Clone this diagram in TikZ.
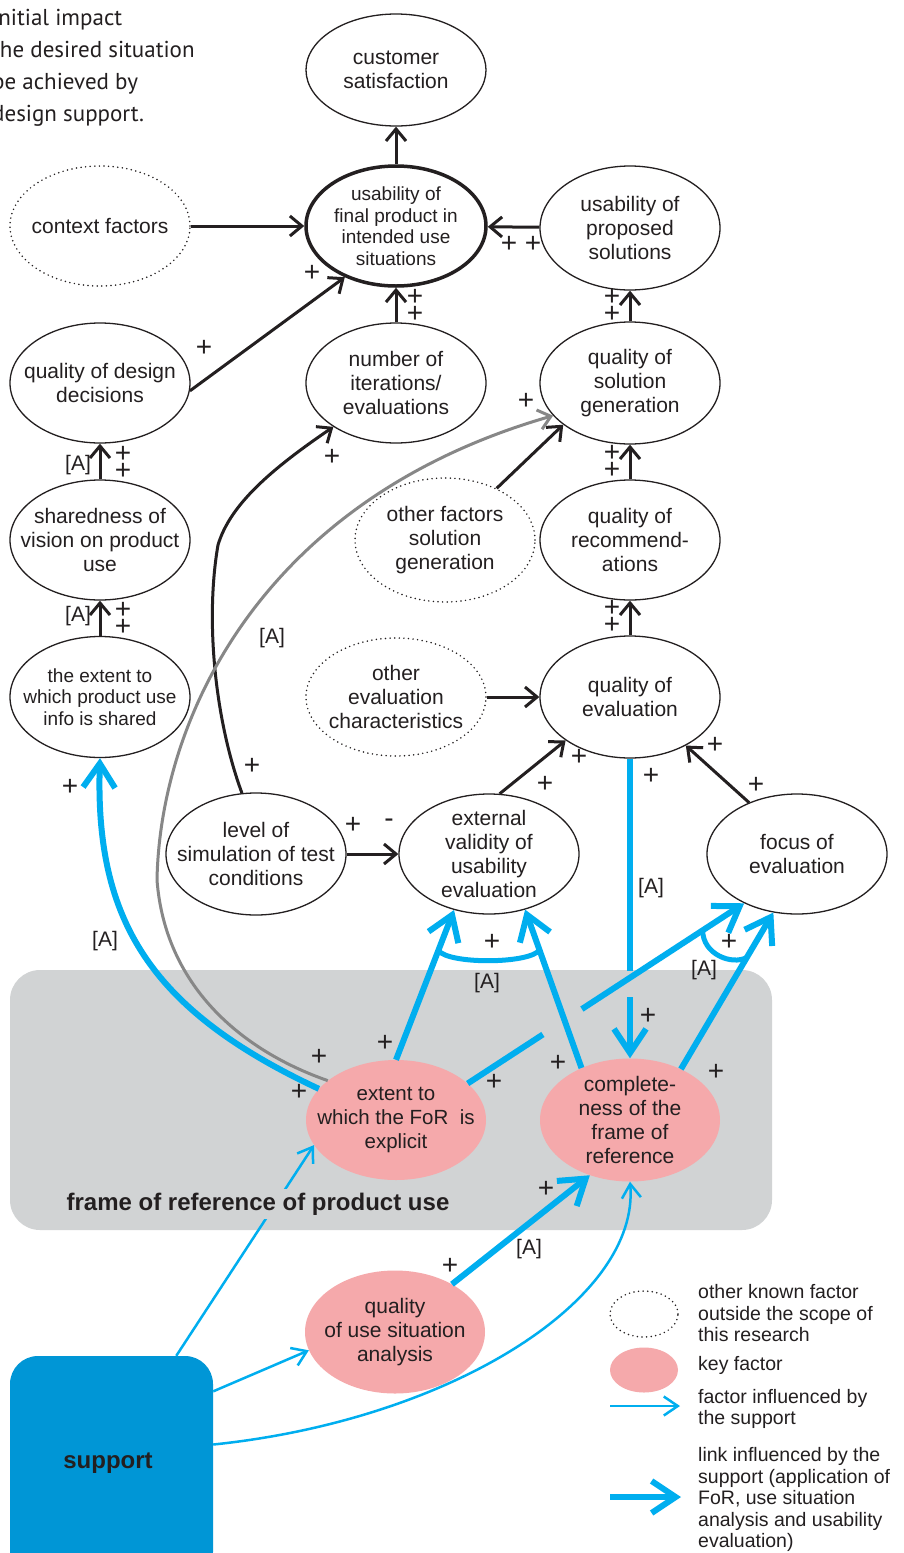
\documentclass[tikz,border=0pt]{standalone}
\usepackage{fontspec}
\setmainfont{Liberation Sans}
\newfontfamily\notefont{PT Sans}
\usetikzlibrary{shapes.geometric,arrows.meta,calc}

\definecolor{ink}{HTML}{231F20}
\definecolor{fcyan}{HTML}{00AEEF}
\definecolor{supblue}{HTML}{0096D6}
\definecolor{keypink}{HTML}{F5A9AB}
\definecolor{forgray}{HTML}{D1D3D4}
\definecolor{linkgray}{HTML}{878787}

\begin{document}
\begin{tikzpicture}[x=1pt,y=-1pt,
  every node/.style={text=ink},
  fac/.style={ellipse, draw=ink, line width=1.3pt, minimum width=180pt, minimum height=120pt, inner sep=0pt},
  keyfac/.style={ellipse, fill=keypink, minimum width=180pt, minimum height=122pt, inner sep=0pt},
  otherfac/.style={ellipse, draw=ink, line width=1.7pt, dash pattern=on 0pt off 4.6pt, line cap=round,
                   minimum width=180pt, minimum height=120pt, inner sep=0pt},
  txt/.style={font=\fontsize{21}{24}\selectfont, align=center, text=ink},
  small/.style={font=\fontsize{19}{21.5}\selectfont, align=center, text=ink},
  sign/.style={font=\fontsize{28}{17}\selectfont, inner sep=0pt, align=center},
  tag/.style={font=\fontsize{21}{24}\selectfont, inner sep=0pt},
  legtxt/.style={font=\fontsize{19.5}{21.5}\selectfont, align=left, anchor=west, inner sep=0pt},
  barrow/.style={draw=ink, line width=3pt, -{Straight Barb[length=12pt,width=20pt]}},
  garrow/.style={draw=linkgray, line width=3pt, -{Straight Barb[length=12pt,width=20pt]}},
  bline/.style={draw=fcyan, line width=6pt},
  bthick/.style={bline, -{Straight Barb[length=24pt,width=32pt]}},
  bthin/.style={draw=fcyan, line width=2.5pt, -{Straight Barb[length=14pt,width=19pt]}}
]
\useasboundingbox (0,0) rectangle (903,1553);
\clip (0,0) rectangle (903,1553);
\fill[white] (0,0) rectangle (903,1553);

% heading note, cut by the left edge
\node[anchor=north west, inner sep=0pt, align=left, font=\notefont\fontsize{23}{32}\selectfont]
  (note) at (-8,9) {initial impact\\the desired situation\\be achieved by\\design support.};

% frame of reference area and the support block
\fill[forgray, rounded corners=30pt] (10,970) rectangle (772,1230);
\node[fill=supblue, rounded corners=28pt, minimum width=203pt, minimum height=224pt, inner sep=0pt] (sup) at (111.5,1468) {};
\node[font=\bfseries\fontsize{24}{28}\selectfont, inner sep=0pt] (suptxt) at (108,1463) {support};

% factors
\node[fac, minimum height=112pt, label={[txt]center:{customer\\satisfaction}}] (cs) at (396,70) {};
\node[fac, line width=3.5pt, label={[small]center:{usability of\\final product in\\intended use\\situations}}] (fp) at (396,226) {};
\node[otherfac, label={[txt]center:{context factors}}] (cf) at (100,226) {};
\node[fac, minimum height=124pt, label={[txt]center:{usability of\\proposed\\solutions}}] (ups) at (630,228) {};
\node[fac, label={[txt]center:{quality of design\\decisions}}] (dd) at (100,383) {};
\node[fac, label={[txt]center:{number of\\iterations/\\evaluations}}] (ni) at (396,383) {};
\node[fac, minimum height=122pt, label={[txt]center:{quality of\\solution\\generation}}] (qsg) at (630,383) {};
\node[fac, label={[txt]center:{sharedness of\\vision on product\\use}}] (sv) at (100,540) {};
\node[otherfac, minimum height=124pt, label={[txt]center:{other factors\\solution\\generation}}] (ofs) at (445,540) {};
\node[fac, label={[txt]center:{quality of\\recommend-\\ations}}] (qr) at (630,540) {};
\node[fac, minimum height=121pt, label={[small]center:{the extent to\\which product use\\info is shared}}] (eis) at (100,697) {};
\node[otherfac, minimum height=118pt, label={[txt]center:{other\\evaluation\\characteristics}}] (oec) at (396,697) {};
\node[fac, minimum height=122pt, label={[txt]center:{quality of\\evaluation}}] (qe) at (630,697) {};
\node[fac, minimum height=122pt, label={[txt]center:{level of\\simulation of test\\conditions}}] (ls) at (256,854) {};
\node[fac, label={[txt]center:{external\\validity of\\usability\\evaluation}}] (ev) at (489,854) {};
\node[fac, label={[txt]center:{focus of\\evaluation}}] (foc) at (797,854) {};

% key factors
\node[keyfac, minimum height=120pt, label={[txt, font=\fontsize{20.5}{24}\selectfont]center:{extent to\\which the FoR\ \ is\\explicit}}] (xf) at (396,1120) {};
\node[keyfac, minimum height=123pt, label={[txt, font=\fontsize{21}{23.7}\selectfont]center:{complete-\\ness of the\\frame of\\reference}}] (cfr) at (630,1120) {};
\node[keyfac, minimum height=123pt, label={[txt]center:{quality\\of use situation\\analysis}}] (qu) at (395,1332) {};

% black influence links
\draw[barrow] (fp) -- (cs);
\draw[barrow] (cf) -- (fp);
\draw[barrow] (ups) -- (fp);
\draw[barrow] (dd.-5) -- (fp.225);
\draw[barrow] (ni) -- (fp);
\draw[barrow] (qsg) -- (ups);
\draw[barrow] (qr) -- (qsg);
\draw[barrow] (qe) -- (qr);
\draw[barrow] (sv) -- (dd);
\draw[barrow] (eis) -- (sv);
\draw[barrow] (ofs.45) -- (qsg.212);
\draw[barrow] (oec) -- (qe);
\draw[barrow] (ls) -- (ev);
\draw[barrow] (ev.80) -- (qe.214);
\draw[barrow] (foc.133) -- (qe.-41);
\draw[barrow] (ls.103) .. controls (215,720) and (205,620) .. (218,545)
                       .. controls (230,505) and (270,470) .. (ni.215);

% grey link
\draw[garrow] (xf.150) .. controls (240,1050) and (165,985) .. (157,880)
                       .. controls (160,720) and (260,500) .. (qsg.203);

% thin links from the support
\draw[bthin] (sup.60) -- (xf.197);
\draw[bthin] (sup.37.5) -- (qu.192);
\draw[bthin] (sup.13.8) .. controls (450,1420) and (640,1300) .. (cfr.south);

% area label, drawn over the thin link
\node[fill=forgray, inner sep=4pt, font=\bfseries\fontsize{24}{28}\selectfont] (fortxt) at (258,1204) {frame of reference of product use};

% thick links influenced by the support
\draw[bthick] (xf.158) .. controls (150,1010) and (95,920) .. (eis.south);
\draw[bthick] (xf.north) -- (ev.238);
\draw[bthick] (cfr.133) -- (ev.-57);
\draw[bline, line width=5pt] ($(xf.north)!0.73!(ev.238)$) .. controls +(10,14) and +(-10,14) .. ($(cfr.133)!0.745!(ev.-57)$);
\draw[bline] (xf.27) -- ($(xf.27)!0.272!(foc.223)$);
\draw[bthick] ($(xf.27)!0.413!(foc.223)$) -- (foc.223);
\draw[bthick] (cfr.45) -- (foc.248);
\draw[bline, line width=5pt] ($(xf.27)!0.85!(foc.223)$) .. controls +(0,24) and +(-15,8) .. ($(cfr.45)!0.713!(foc.248)$);
\draw[bline] (qe.south) -- ($(qe.south)!0.708!(cfr.north)$);
\draw[bthick] ($(qe.south)!0.797!(cfr.north)$) -- (cfr.north);
\draw[bthick] (qu.40) -- (cfr.234);

% signs
\foreach \px/\py [count=\i] in {509/244, 533/244, 312/273, 204/348, 526/401, 332/457,
    579/757, 545/784, 715/745, 756/785, 651/776, 252/766, 70/787, 353/825,
    492/942, 729/942, 648/1016, 319/1057, 299/1092, 385/1043,
    494/1082, 558/1063, 716/1072, 546/1189, 450/1266}
  \node[sign] (plus\i) at (\px,\py) {+};
\foreach \px/\py [count=\i] in {415/305.5, 612/305.5, 612/461.5, 123/462.5, 123/618.5, 612/616.5}
  \node[sign] (pluspair\i) at (\px,\py) {+\\+};
\node[sign] (minus) at (389,823) {-};
\foreach \px/\py [count=\i] in {78/465, 78/616, 272/638, 651/888, 105/941, 487/983, 704/970, 529/1249}
  \node[tag] (tagA\i) at (\px,\py) {[A]};

% legend
\node[otherfac, minimum width=68pt, minimum height=46pt] (lgo) at (644,1314) {};
\node[keyfac, minimum width=68pt, minimum height=45pt] (lgk) at (644,1370) {};
\coordinate (lta) at (610,1406);
\coordinate (ltb) at (680,1406);
\coordinate (lka) at (610,1497);
\coordinate (lkb) at (681,1497);
\draw[bthin] (lta) -- (ltb);
\draw[bthick] (lka) -- (lkb);
\node[legtxt] (lg1) at (698,1313.5) {other known factor\\outside the scope of\\this research};
\node[legtxt] (lg2) at (698,1365) {key factor};
\node[legtxt] (lg3) at (698,1409) {factor influenced by\\the support};
\node[legtxt] (lg4) at (698,1499.5) {link influenced by the\\support (application of\\FoR, use situation\\analysis and usability\\evaluation)};
\end{tikzpicture}
\end{document}
